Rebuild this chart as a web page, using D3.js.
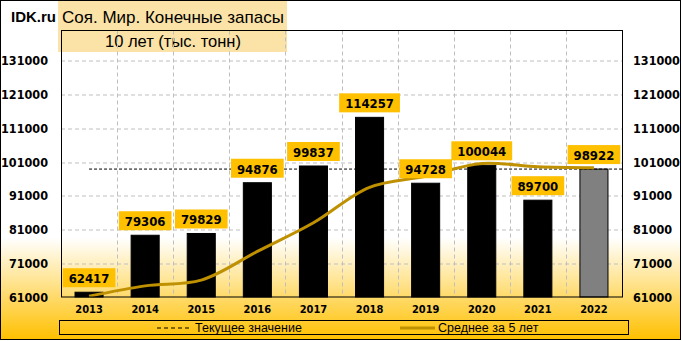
<!DOCTYPE html>
<html>
<head>
<meta charset="utf-8">
<script src="https://cdn.jsdelivr.net/npm/d3@7"></script>
<style>
  body { margin: 0; }
  svg { display: block; }
</style>
</head>
<body>
<div id="chart"></div>
<script>
// Data
var years = ["2013", "2014", "2015", "2016", "2017", "2018", "2019", "2020", "2021", "2022"];
var stocks = [62417, 79306, 79829, 94876, 99837, 114257, 94728, 100044, 89700, 98922];
var avg5 = [61200, 64300, 66000, 74500, 83000, 93500, 96800, 100600, 99600, 99300];
var yTicks = [61000, 71000, 81000, 91000, 101000, 111000, 121000, 131000];
var currentValue = 98922;

var W = 682, H = 341;
var margin = {top: 30.5, right: 60, bottom: 44, left: 61},
    width = 622 - margin.left,
    height = 297 - margin.top;

var numFont = "'DejaVu Sans Condensed', 'DejaVu Sans', sans-serif";
var narrowFont = "'Liberation Sans Narrow', 'Liberation Sans', sans-serif";

var svg = d3.select("#chart")
  .append("svg")
    .attr("width", W)
    .attr("height", H);

// Background gradient
var defs = svg.append("defs");
var grad = defs.append("linearGradient")
    .attr("id", "bg")
    .attr("x1", 0).attr("y1", 0).attr("x2", 0).attr("y2", 1);
grad.append("stop").attr("offset", "0%").attr("stop-color", "#ffffff");
grad.append("stop").attr("offset", "70%").attr("stop-color", "#ffffff");
grad.append("stop").attr("offset", "100%").attr("stop-color", "#ffc000");

svg.append("rect")
  .attr("x", 0.5).attr("y", 0.5)
  .attr("width", W - 2).attr("height", H - 2)
  .attr("fill", "url(#bg)")
  .attr("stroke", "#000");

// Title box
svg.append("rect")
  .attr("x", 58).attr("y", 1)
  .attr("width", 229).attr("height", 51)
  .attr("fill", "#fbe2a6");

svg.append("text")
  .attr("x", 11).attr("y", 22)
  .attr("font-family", "'Liberation Sans', sans-serif")
  .attr("font-weight", "bold")
  .attr("font-size", 15)
  .text("IDK.ru");

svg.append("text")
  .attr("x", 62).attr("y", 23)
  .attr("font-family", "'Liberation Sans', sans-serif")
  .attr("font-size", 17)
  .text("Соя. Мир. Конечные запасы");

svg.append("text")
  .attr("x", 173).attr("y", 47)
  .attr("text-anchor", "middle")
  .attr("font-family", "'Liberation Sans', sans-serif")
  .attr("font-size", 16.5)
  .text("10 лет (тыс. тонн)");

var g = svg.append("g")
  .attr("transform", "translate(" + margin.left + "," + margin.top + ")");

// Scales
var x = d3.scaleBand()
  .domain(years)
  .range([0, width])
  .paddingInner(0.5)
  .paddingOuter(0.25);

var y = d3.scaleLinear()
  .domain([61000, 140000])
  .range([height, 0]);

// Horizontal gridlines
g.append("g")
  .selectAll("line")
  .data(yTicks.slice(1))
  .enter()
  .append("line")
    .attr("x1", 0).attr("x2", width)
    .attr("y1", function(d) { return Math.round(y(d)) + 0.5; })
    .attr("y2", function(d) { return Math.round(y(d)) + 0.5; })
    .attr("stroke", "#bfbfbf")
    .attr("stroke-dasharray", "4,3");

// Vertical gridlines at category boundaries
g.append("g")
  .selectAll("line")
  .data(years.slice(0, -1))
  .enter()
  .append("line")
    .attr("x1", function(d) { return Math.round(x(d) + x.bandwidth() / 2 + x.step() / 2) + 0.5; })
    .attr("x2", function(d) { return Math.round(x(d) + x.bandwidth() / 2 + x.step() / 2) + 0.5; })
    .attr("y1", 0).attr("y2", height)
    .attr("stroke", "#bfbfbf")
    .attr("stroke-dasharray", "4,3");

// Bars
g.append("g")
  .selectAll("rect")
  .data(stocks)
  .enter()
  .append("rect")
    .attr("x", function(d, i) { return x(years[i]); })
    .attr("y", function(d) { return y(d); })
    .attr("width", x.bandwidth())
    .attr("height", function(d) { return height - y(d); })
    .attr("fill", function(d, i) { return i === years.length - 1 ? "#808080" : "#000"; })
    .attr("stroke", "#000")
    .attr("stroke-width", 1);

// Current value dashed line
g.append("line")
  .attr("x1", x(years[0]) + x.bandwidth() / 2)
  .attr("x2", width)
  .attr("y1", y(currentValue))
  .attr("y2", y(currentValue))
  .attr("stroke", "#000")
  .attr("stroke-dasharray", "3,2");

// 5-year average line
var line = d3.line()
  .x(function(d, i) { return x(years[i]) + x.bandwidth() / 2; })
  .y(function(d) { return y(d); })
  .curve(d3.curveCatmullRom.alpha(0.5));

g.append("path")
  .datum(avg5)
  .attr("d", line)
  .attr("fill", "none")
  .attr("stroke", "#bf9000")
  .attr("stroke-width", 3);

// Value labels
var labels = g.append("g")
  .selectAll("g")
  .data(stocks)
  .enter()
  .append("g");

labels.append("text")
  .attr("x", function(d, i) { return x(years[i]) + x.bandwidth() / 2; })
  .attr("y", function(d) { return y(d) - 9; })
  .attr("text-anchor", "middle")
  .attr("font-family", numFont)
  .attr("font-weight", "bold")
  .attr("font-size", 13)
  .text(function(d) { return d; });

labels.each(function(d, i) {
  var t = d3.select(this).select("text");
  var w = t.node().getComputedTextLength() + 12;
  var cx = x(years[i]) + x.bandwidth() / 2;
  d3.select(this).insert("rect", "text")
    .attr("x", cx - w / 2)
    .attr("y", y(d) - 24)
    .attr("width", w)
    .attr("height", 19)
    .attr("fill", "#ffc000");
});

// Plot frame
g.append("rect")
  .attr("x", 0.5).attr("y", 0)
  .attr("width", width).attr("height", height)
  .attr("fill", "none")
  .attr("stroke", "#000");

// Axes
var fmt = d3.format("d");
var yAxisL = g.append("g")
  .call(d3.axisLeft(y).tickValues(yTicks).tickFormat(fmt).tickSize(0).tickPadding(13));
var yAxisR = g.append("g")
  .attr("transform", "translate(" + width + ",0)")
  .call(d3.axisRight(y).tickValues(yTicks).tickFormat(fmt).tickSize(0).tickPadding(11));
[yAxisL, yAxisR].forEach(function(a) {
  a.select(".domain").remove();
  a.selectAll("text")
    .attr("font-family", numFont)
    .attr("font-weight", "bold")
    .attr("font-size", 12.5)
    .attr("fill", "#000");
});

var xAxis = g.append("g")
  .attr("transform", "translate(0," + height + ")")
  .call(d3.axisBottom(x).tickSize(0).tickPadding(8));
xAxis.select(".domain").remove();
xAxis.selectAll("text")
  .attr("font-family", numFont)
  .attr("font-weight", "bold")
  .attr("font-size", 11)
  .attr("fill", "#000");

// Legend
var legend = svg.append("g");
legend.append("rect")
  .attr("x", 59.5).attr("y", 320.5)
  .attr("width", 569).attr("height", 14)
  .attr("fill", "none")
  .attr("stroke", "#000");

legend.append("line")
  .attr("x1", 157).attr("x2", 189)
  .attr("y1", 328).attr("y2", 328)
  .attr("stroke", "#000")
  .attr("stroke-dasharray", "4,3");
legend.append("text")
  .attr("x", 195).attr("y", 332)
  .attr("font-family", narrowFont)
  .attr("font-size", 12.5)
  .text("Текущее значение");

legend.append("line")
  .attr("x1", 400).attr("x2", 435)
  .attr("y1", 328).attr("y2", 328)
  .attr("stroke", "#bf9000")
  .attr("stroke-width", 3);
legend.append("text")
  .attr("x", 438).attr("y", 332)
  .attr("font-family", narrowFont)
  .attr("font-size", 12.5)
  .text("Среднее за 5 лет");
</script>
</body>
</html>
